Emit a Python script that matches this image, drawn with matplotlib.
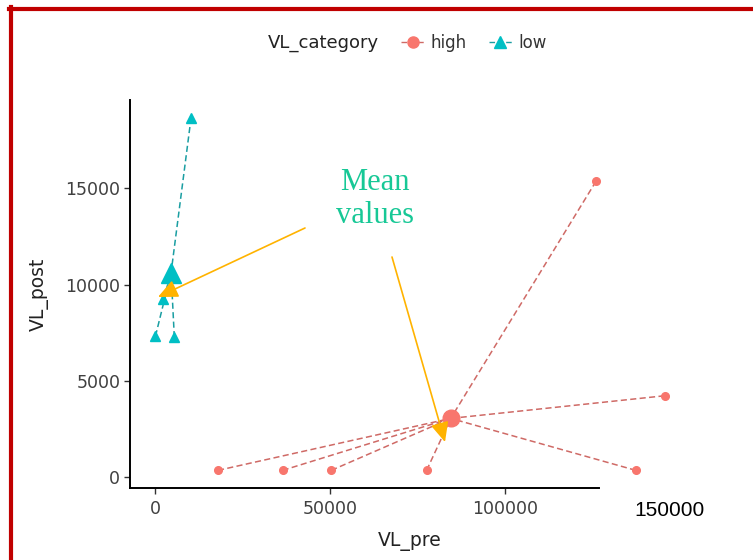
import numpy as np
import matplotlib
matplotlib.use("Agg")
import matplotlib.pyplot as plt
from matplotlib.lines import Line2D

# ---- data ----
categories = ["high", "low"]
high_pre = [17900, 36400, 50300, 77600, 137500, 145700, 126100]
high_post = [360, 360, 360, 360, 360, 4230, 15360]
low_pre = [10200, 0, 2300, 5400]
low_post = [18660, 7320, 9230, 7270]
x_ticks = [0, 50000, 100000]
y_ticks = [0, 5000, 10000, 15000]
y_tick_labels = ["0", "5000", "10000", "15000"]

colors = {"high": "#F8766D", "low": "#00BFC4"}
line_colors = {"high": "#CF6A66", "low": "#1A9EA2"}
markers = {"high": "o", "low": "^"}

W, H = 753, 560
fig = plt.figure(figsize=(W / 100, H / 100), dpi=100)
fig.patch.set_facecolor("white")
ax = fig.add_axes([130 / W, 1 - 488 / H, (690 - 130) / W, (488 - 100) / H])

groups = {"high": (high_pre, high_post), "low": (low_pre, low_post)}
for cat in categories:
    xs, ys = np.array(groups[cat][0], float), np.array(groups[cat][1], float)
    mx, my = xs.mean(), ys.mean()
    for x, y in zip(xs, ys):
        ax.plot([x, mx], [y, my], color=line_colors[cat], lw=1.1,
                ls=(0, (4, 2.2)), zorder=2)
    ax.plot(xs, ys, ls="none", marker=markers[cat], ms=5.5 if cat == "high" else 6.5,
            color=colors[cat], mec=colors[cat], zorder=3)
    ax.plot([mx], [my], ls="none", marker=markers[cat],
            ms=12 if cat == "high" else 14, color=colors[cat], zorder=4)

# ggplot-like limits (5% expansion)
allx = np.array(high_pre + low_pre, float)
ally = np.array(high_post + low_post, float)
rx = allx.max() - allx.min()
ry = ally.max() - ally.min()
ax.set_xlim(allx.min() - 0.05 * rx, allx.max() + 0.05 * rx)
ax.set_ylim(ally.min() - 0.05 * ry, ally.max() + 0.05 * ry)

for s in ["top", "right"]:
    ax.spines[s].set_visible(False)
for s in ["left", "bottom"]:
    ax.spines[s].set_linewidth(1.4)
    ax.spines[s].set_color("black")
ax.spines["bottom"].set_bounds(ax.get_xlim()[0], 127000)

ax.set_xticks(x_ticks)
ax.set_xticklabels([str(v) for v in x_ticks])
ax.set_yticks(y_ticks)
ax.set_yticklabels(y_tick_labels)
ax.tick_params(axis="both", length=4, width=1.0, color="#333333",
               labelcolor="#404040", labelsize=12.5)
ax.tick_params(axis="x", pad=5)
ax.tick_params(axis="y", pad=3)
for lab in ax.get_xticklabels() + ax.get_yticklabels():
    lab.set_fontfamily("DejaVu Sans")

ax.set_xlabel("VL_pre", fontsize=13.5, color="#222222", labelpad=10)
ax.set_ylabel("VL_post", fontsize=13.5, color="#222222", labelpad=12)

# extra pasted tick label
fig.text(670 / W, 1 - 511 / H, "150000", ha="center", va="center",
         fontsize=15, family="Liberation Sans", color="black")

# legend (top, horizontal)
fig.text(323 / W, 1 - 43 / H, "VL_category", ha="center", va="center",
         fontsize=13, color="#222222")
handles = [Line2D([0], [0], color=line_colors[c], ls=(0, (4, 2)), lw=1.0,
                  marker=markers[c], ms=8, mfc=colors[c], mec=colors[c])
           for c in categories]
fig.legend(handles, categories, loc="center left",
           bbox_to_anchor=(401 / W, 1 - 43 / H), ncol=2, frameon=False,
           fontsize=12, handlelength=1.4, handletextpad=0.4,
           columnspacing=1.3, borderpad=0, borderaxespad=0,
           labelcolor="#333333")

# annotation
fig.text(375 / W, 1 - 199 / H, "Mean\nvalues", ha="center", va="center",
         fontsize=22, family="Liberation Serif", color="#17C896",
         linespacing=1.2)
arrow_kw = dict(arrowstyle="-|>,head_length=1.2,head_width=0.55",
                color="#FFB300", lw=1.2, shrinkA=0, shrinkB=0)
ax.annotate("", xy=(158, H - 297), xycoords="figure pixels",
            xytext=(305, H - 228), textcoords="figure pixels",
            arrowprops=arrow_kw, zorder=6)
ax.annotate("", xy=(445, H - 442), xycoords="figure pixels",
            xytext=(392, H - 257), textcoords="figure pixels",
            arrowprops=arrow_kw, zorder=6)

# red frame (top and left)
fig.add_artist(Line2D([9 / W, 1], [1 - 9 / H, 1 - 9 / H], color="#C00000",
                      lw=3, transform=fig.transFigure))
fig.add_artist(Line2D([11 / W, 11 / W], [0, 1 - 7 / H], color="#C00000",
                      lw=3, transform=fig.transFigure))

fig.savefig("out.png", dpi=100, facecolor="white")
